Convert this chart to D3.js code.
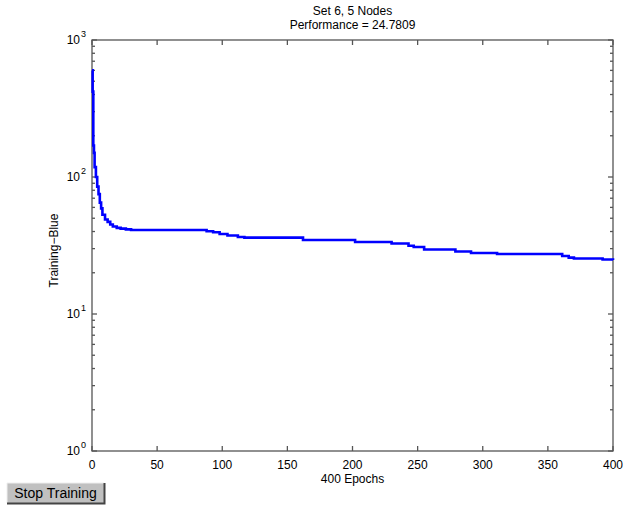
<!DOCTYPE html>
<html><head><meta charset="utf-8">
<script src="https://cdn.jsdelivr.net/npm/d3@7"></script>
<style>
body{margin:0;background:#fff;font-family:"Liberation Sans",Arial,sans-serif;}
svg text{font-family:"Liberation Sans",Arial,sans-serif;fill:#000;}
</style></head><body>
<svg id="c" width="623" height="510"></svg>
<script>
const titleLines = ["Set 6, 5 Nodes", "Performance = 24.7809"];
const xLabel = "400 Epochs";
const yLabel = "Training\u2212Blue";
const buttonText = "Stop Training";
const xTicks = [0, 50, 100, 150, 200, 250, 300, 350, 400];
const yExponents = [0, 1, 2, 3];
const epochs = [0, 0.5, 1, 1.5, 2, 3, 4, 5, 6, 7, 8, 10, 12, 14, 16, 19, 22, 26, 30, 88, 93, 98, 104, 112, 117, 162, 202, 230, 243, 247, 255, 279, 291, 311, 361, 366, 370, 392, 400];
const perf   = [600, 420, 170, 150, 118, 100, 85, 75, 65, 59, 53, 49, 47, 45, 43.5, 42.5, 42, 41.5, 41, 40.2, 39.5, 38.4, 37.4, 36.5, 36.1, 34.7, 33.5, 32.7, 31.5, 30.8, 29.6, 28.6, 27.9, 27.4, 26.5, 25.8, 25.4, 25.0, 24.78];

const svg = d3.select("#c");
const L = 92, R = 613, T = 40, B = 451;
const x = d3.scaleLinear().domain([0, 400]).range([L, R]);
const y = d3.scaleLog().domain([1, 1000]).range([B, T]);
const axisColor = "#555";

// frame
svg.append("rect").attr("x", L).attr("y", T).attr("width", R - L).attr("height", B - T)
  .attr("fill", "#fff").attr("stroke", axisColor).attr("stroke-width", 1.3);

// x ticks (inward, bottom and top)
const g = svg.append("g").attr("stroke", axisColor).attr("stroke-width", 1.3);
xTicks.forEach(t => {
  g.append("line").attr("x1", x(t)).attr("x2", x(t)).attr("y1", B).attr("y2", B - 5);
  g.append("line").attr("x1", x(t)).attr("x2", x(t)).attr("y1", T).attr("y2", T + 5);
});
// y ticks major + minor
const majors = yExponents.map(e => Math.pow(10, e));
const minors = [];
for (let e = 0; e < 3; e++) for (let k = 2; k <= 9; k++) minors.push(k * Math.pow(10, e));
majors.forEach(v => {
  g.append("line").attr("x1", L).attr("x2", L + 5).attr("y1", y(v)).attr("y2", y(v));
  g.append("line").attr("x1", R).attr("x2", R - 5).attr("y1", y(v)).attr("y2", y(v));
});
minors.forEach(v => {
  g.append("line").attr("x1", L).attr("x2", L + 3).attr("y1", y(v)).attr("y2", y(v));
  g.append("line").attr("x1", R).attr("x2", R - 3).attr("y1", y(v)).attr("y2", y(v));
});

// x tick labels
xTicks.forEach(t => {
  svg.append("text").attr("x", x(t)).attr("y", B + 18).attr("text-anchor", "middle")
    .attr("font-size", 12).text(t);
});
// y tick labels 10^n
yExponents.forEach(e => {
  const yy = y(Math.pow(10, e));
  svg.append("text").attr("x", 80).attr("y", yy + 4).attr("text-anchor", "end")
    .attr("font-size", 12).text("10");
  svg.append("text").attr("x", 81).attr("y", yy - 3).attr("font-size", 9).text(e);
});

// curve
const line = d3.line().x((d, i) => x(epochs[i])).y(d => y(d)).curve(d3.curveStepAfter);
svg.append("path").datum(perf).attr("d", line).attr("fill", "none")
  .attr("stroke", "#0000ff").attr("stroke-width", 2.6);

// title
titleLines.forEach((s, i) => {
  svg.append("text").attr("x", (L + R) / 2).attr("y", 15 + i * 14).attr("text-anchor", "middle")
    .attr("font-size", 12).text(s);
});
// axis labels
svg.append("text").attr("x", (L + R) / 2).attr("y", B + 32).attr("text-anchor", "middle")
  .attr("font-size", 12).text(xLabel);
svg.append("text").attr("transform", `translate(58,${(T + B) / 2 + 5}) rotate(-90)`)
  .attr("text-anchor", "middle").attr("font-size", 12).text(yLabel);

// button
const bx = 7, by = 483, bw = 97, bh = 20;
svg.append("rect").attr("x", bx).attr("y", by).attr("width", bw).attr("height", bh).attr("fill", "#c0c0c0");
svg.append("path").attr("d", `M${bx},${by + bh} L${bx},${by} L${bx + bw},${by}`).attr("stroke", "#eee").attr("fill", "none");
svg.append("path").attr("d", `M${bx},${by + bh + 0.5} L${bx + bw + 0.5},${by + bh + 0.5} L${bx + bw + 0.5},${by}`).attr("stroke", "#444").attr("stroke-width", 2).attr("fill", "none");
svg.append("text").attr("x", bx + bw / 2).attr("y", by + 15).attr("text-anchor", "middle")
  .attr("font-size", 14).text(buttonText);
</script></body></html>
